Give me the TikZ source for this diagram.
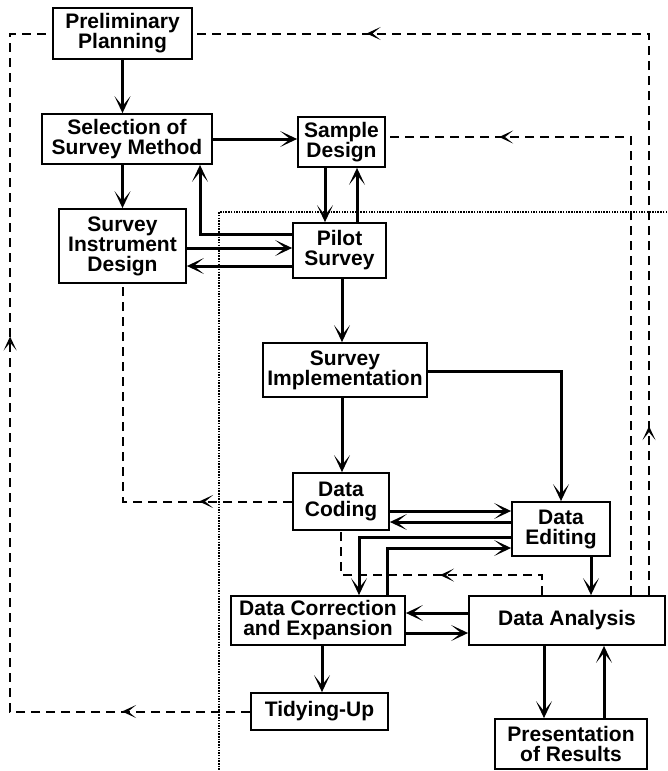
\documentclass[tikz,border=0pt]{standalone}
\usepackage{fontspec}
\setmainfont{Liberation Sans}
\usetikzlibrary{calc}
\usetikzlibrary{arrows.meta}
\usetikzlibrary{decorations.markings}
\tikzset{flowtip/.tip={Stealth[length=17pt,width=16pt,inset=10pt]}}
\tikzset{fbtip/.tip={Stealth[length=14pt,width=13pt,inset=8pt]}}
\tikzstyle{stagebox} = [draw, rectangle, line width=1.8pt, inner sep=0pt, align=center, font=\bfseries\fontsize{21}{20}\selectfont]
\tikzstyle{flow} = [line width=3pt, -flowtip]
\tikzstyle{fb} = [line width=2pt, dash pattern=on 9pt off 6pt]
\tikzstyle{frameline} = [line width=1.2pt, dash pattern=on 1.5pt off 1.2pt]

\begin{document}
\begin{tikzpicture}[x=1pt, y=-1pt]
\useasboundingbox (0,0) rectangle (667,771);

% survey stages
\node[stagebox, minimum width=139pt, minimum height=51pt] (prelim) at (122.5,33.5) {Preliminary\\Planning};
\node[stagebox, minimum width=170pt, minimum height=50pt] (select) at (127,139) {Selection of\\Survey Method};
\node[stagebox, minimum width=87pt, minimum height=50pt] (sample) at (341.5,142) {Sample\\Design};
\node[stagebox, minimum width=127pt, minimum height=74pt] (instr) at (122.5,246) {Survey\\Instrument\\Design};
\node[stagebox, minimum width=93pt, minimum height=55pt] (pilot) at (339.5,250.5) {Pilot\\Survey};
\node[stagebox, minimum width=164pt, minimum height=54pt] (impl) at (345,370) {Survey\\Implementation};
\node[stagebox, minimum width=96pt, minimum height=57pt] (coding) at (341,501.5) {Data\\Coding};
\node[stagebox, minimum width=98pt, minimum height=54pt] (editing) at (561,529) {Data\\Editing};
\node[stagebox, minimum width=174pt, minimum height=49pt] (correct) at (318,620.5) {Data Correction\\and Expansion};
\node[stagebox, minimum width=196pt, minimum height=49pt] (analysis) at (567,620.5) {Data Analysis};
\node[stagebox, minimum width=137pt, minimum height=37pt] (tidy) at (319.5,711.5) {Tidying-Up};
\node[stagebox, minimum width=152pt, minimum height=50pt] (present) at (571,744) {Presentation\\of Results};

% main flow
\draw[flow] (prelim.south) -- (prelim.south |- select.north);
\draw[flow] (select.east) -- (select.east -| sample.west);
\draw[flow] (select.south -| instr.north) -- (instr.north);
\draw[flow] ($(sample.south)+(-16.5,0)$) -- ($(pilot.north)+(-14.5,0)$);
\draw[flow] ($(pilot.north)+(17.5,0)$) -- ($(sample.south)+(15.5,0)$);
\draw[flow] ($(pilot.west)+(0,-16.5)$) -| ($(select.south)+(73,0)$);
\draw[flow] ($(instr.east)+(0,2)$) -- ($(pilot.west)+(0,-2.5)$);
\draw[flow] ($(pilot.west)+(0,15.5)$) -- ($(instr.east)+(0,20)$);
\draw[flow] ($(pilot.south)+(2.5,0)$) -- ($(impl.north)+(-3,0)$);
\draw[flow] ($(impl.south)+(-3,0)$) -- ($(coding.north)+(1,0)$);
\draw[flow] ($(impl.east)+(0,1)$) -| (editing.north);
\draw[flow] ($(coding.east)+(0,9.5)$) -- ($(editing.west)+(0,-18)$);
\draw[flow] ($(editing.west)+(0,-7)$) -- ($(coding.east)+(0,20.5)$);
\draw[flow] ($(editing.west)+(0,8)$) -| ($(correct.north)+(41,0)$);
\draw[flow] ($(correct.north)+(69,0)$) |- ($(editing.west)+(0,19)$);
\draw[flow] ($(editing.south)+(30,0)$) -- ($(analysis.north)+(24,0)$);
\draw[flow] ($(analysis.west)+(0,-7.5)$) -- ($(correct.east)+(0,-7.5)$);
\draw[flow] ($(correct.east)+(0,12.5)$) -- ($(analysis.west)+(0,12.5)$);
\draw[flow] ($(correct.south)+(4,0)$) -- ($(tidy.north)+(2.5,0)$);
\draw[flow] ($(analysis.south)+(-23,0)$) -- ($(present.north)+(-27,0)$);
\draw[flow] ($(present.north)+(33,0)$) -- ($(analysis.south)+(37,0)$);

% feedback loops
\draw[fb, postaction={decorate}, decoration={markings,
    mark=at position 169pt with {\arrow[solid]{fbtip}},
    mark=at position 844pt with {\arrow[solid]{fbtip}}}]
  ($(analysis.north)+(82,0)$) |- (prelim.east);
\draw[fb, postaction={decorate}, decoration={markings,
    mark=at position 590pt with {\arrow[solid]{fbtip}}}]
  ($(analysis.north)+(64,0)$) |- ($(sample.east)+(0,-5)$);
\draw[fb, postaction={decorate}, decoration={markings,
    mark=at position 128pt with {\arrow[solid]{fbtip}},
    mark=at position 615pt with {\arrow[solid]{fbtip}}}]
  (tidy.west) -| ($(prelim.west)+(-42,0)$) -- (prelim.west);
\draw[fb, postaction={decorate}, decoration={markings,
    mark=at position 93pt with {\arrow[solid]{fbtip}}}]
  (coding.west) -| (instr.south);
\draw[fb, postaction={decorate}, decoration={markings,
    mark=at position 122pt with {\arrow[solid]{fbtip}}}]
  ($(analysis.north)+(-25,0)$) -- ++(0,-20) -| (coding.south);

% boundary
\draw[frameline] (667,212) -| (219,771);
\end{tikzpicture}
\end{document}
